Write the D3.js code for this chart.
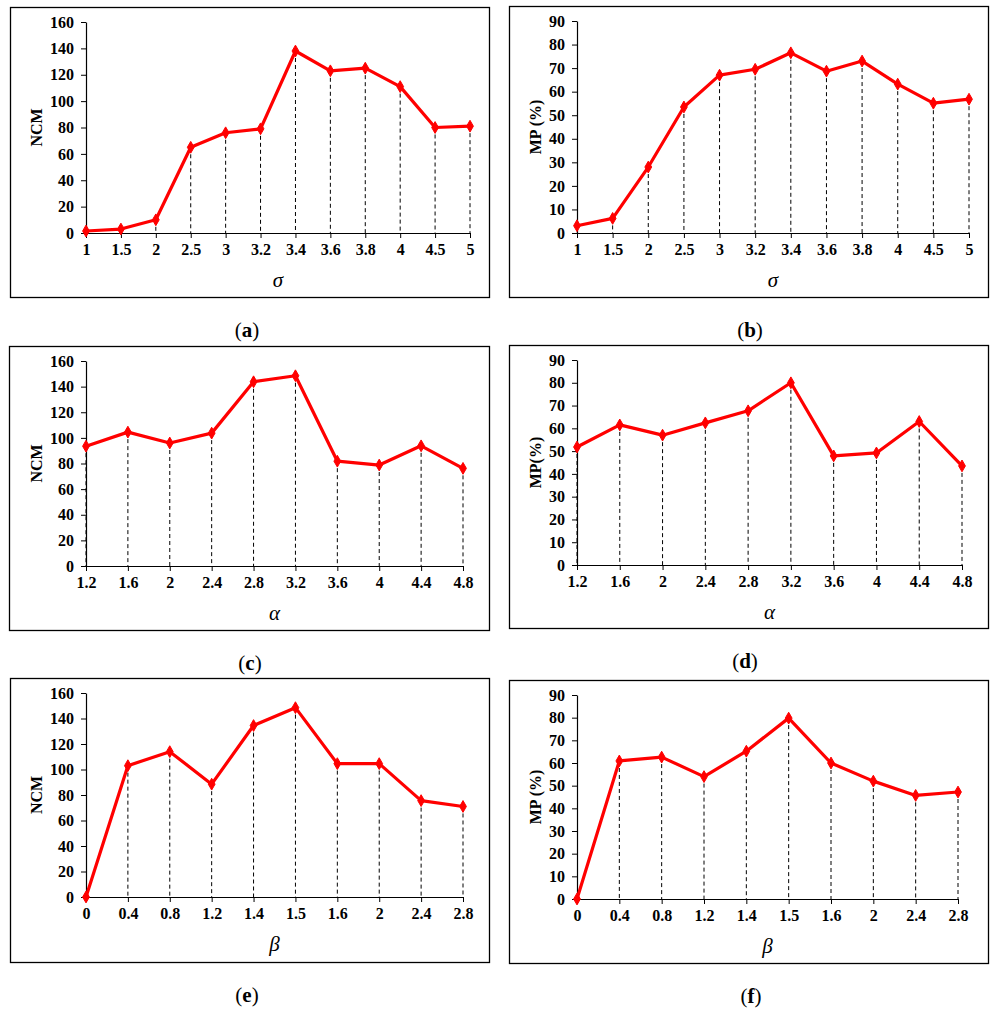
<!DOCTYPE html>
<html>
<head>
<meta charset="utf-8">
<script src="https://cdn.jsdelivr.net/npm/d3@7"></script>
<style>
  body { margin: 0; background: #fff; }
  text { font-family: "Liberation Serif", "Times New Roman", serif; }
</style>
</head>
<body>
<svg id="fig" width="997" height="1016"></svg>
<script>
// x categories
var sigmaCats = ["1", "1.5", "2", "2.5", "3", "3.2", "3.4", "3.6", "3.8", "4", "4.5", "5"];
var alphaCats = ["1.2", "1.6", "2", "2.4", "2.8", "3.2", "3.6", "4", "4.4", "4.8"];
var betaCats = ["0", "0.4", "0.8", "1.2", "1.4", "1.5", "1.6", "2", "2.4", "2.8"];

// series values
var ncmSigma = [1.5, 3, 10, 65, 76, 79, 138, 123, 125, 111, 80, 81];
var mpSigma = [3.1, 6.2, 28, 53.5, 67, 69.5, 76.5, 68.7, 73, 63.2, 55.1, 56.8];
var ncmAlpha = [93.5, 104.5, 96, 103.7, 143.8, 148.5, 81.8, 78.8, 93.8, 76.2];
var mpAlpha = [51.8, 61.5, 57, 62.4, 67.7, 80, 47.9, 49.2, 63, 43.5];
var ncmBeta = [0, 103, 114, 88.5, 134.5, 148.5, 104.6, 104.6, 75.6, 71];
var mpBeta = [0, 60.9, 62.6, 54, 65.2, 79.8, 60, 52, 45.7, 47.2];

// y tick labels
var ncmTicks = [0, 20, 40, 60, 80, 100, 120, 140, 160];
var mpTicks = [0, 10, 20, 30, 40, 50, 60, 70, 80, 90];

var svg = d3.select("#fig");

var panels = [
  {cats: sigmaCats, vals: ncmSigma, ticks: ncmTicks, ylab: "NCM", xlab: "\u03c3", cap: "a",
   frame: [10, 7, 479, 290], x0: 86, x1: 470, yt: 22, yb: 233, labX: 37, capX: 247},
  {cats: sigmaCats, vals: mpSigma, ticks: mpTicks, ylab: "MP (%)", xlab: "\u03c3", cap: "b",
   frame: [509, 6, 479, 291], x0: 577, x1: 969, yt: 21, yb: 233, labX: 536, capX: 750},
  {cats: alphaCats, vals: ncmAlpha, ticks: ncmTicks, ylab: "NCM", xlab: "\u03b1", cap: "c",
   frame: [9, 346, 480, 284], x0: 86, x1: 463, yt: 361, yb: 566, labX: 37, capX: 250},
  {cats: alphaCats, vals: mpAlpha, ticks: mpTicks, ylab: "MP(%)", xlab: "\u03b1", cap: "d",
   frame: [509, 345, 479, 283], x0: 577, x1: 962, yt: 360, yb: 565, labX: 536, capX: 745},
  {cats: betaCats, vals: ncmBeta, ticks: ncmTicks, ylab: "NCM", xlab: "\u03b2", cap: "e",
   frame: [10, 678, 479, 284], x0: 86, x1: 463, yt: 693, yb: 897, labX: 37, capX: 247},
  {cats: betaCats, vals: mpBeta, ticks: mpTicks, ylab: "MP (%)", xlab: "\u03b2", cap: "f",
   frame: [509, 680, 479, 283], x0: 577, x1: 958, yt: 695, yb: 899, labX: 536, capX: 751}
];

panels.forEach(function(p) {
  var g = svg.append("g");

  // frame
  g.append("rect")
    .attr("x", p.frame[0] + 0.5).attr("y", p.frame[1] + 0.5)
    .attr("width", p.frame[2]).attr("height", p.frame[3])
    .attr("fill", "none").attr("stroke", "#000").attr("stroke-width", 1.3);

  var x = d3.scalePoint().domain(p.cats).range([p.x0, p.x1]).padding(0);
  var y = d3.scaleLinear().domain([0, d3.max(p.ticks)]).range([p.yb, p.yt]);

  // drop lines
  g.append("g").selectAll("line")
    .data(p.vals)
    .enter()
    .append("line")
    .attr("x1", function(d, i) { return x(p.cats[i]); })
    .attr("x2", function(d, i) { return x(p.cats[i]); })
    .attr("y1", function(d) { return y(d); })
    .attr("y2", y(0))
    .attr("stroke", "#000")
    .attr("stroke-width", 1)
    .attr("stroke-dasharray", "4,3");

  // y axis
  var yAxis = g.append("g")
    .attr("transform", "translate(" + p.x0 + ",0)")
    .call(d3.axisLeft(y).tickValues(p.ticks).tickSize(5).tickPadding(7).tickSizeOuter(0));
  yAxis.selectAll("text")
    .attr("font-family", "Liberation Serif").attr("font-weight", "bold")
    .attr("font-size", 16).attr("fill", "#000");

  // x axis
  var xAxis = g.append("g")
    .attr("transform", "translate(0," + p.yb + ")")
    .call(d3.axisBottom(x).tickSize(5).tickPadding(6).tickSizeOuter(0));
  xAxis.selectAll("text")
    .attr("font-family", "Liberation Serif").attr("font-weight", "bold")
    .attr("font-size", 16).attr("fill", "#000");
  g.selectAll(".domain").attr("stroke", "#000").attr("stroke-width", 1.2);
  g.selectAll(".tick line").attr("stroke", "#000");

  // the series line
  var line = d3.line()
    .x(function(d, i) { return x(p.cats[i]); })
    .y(function(d) { return y(d); });
  g.append("path")
    .datum(p.vals)
    .attr("d", line)
    .attr("fill", "none")
    .attr("stroke", "#ff0000")
    .attr("stroke-width", 3.2)
    .attr("stroke-linejoin", "round");

  // diamond markers
  g.append("g").selectAll("path")
    .data(p.vals)
    .enter()
    .append("path")
    .attr("d", d3.symbol().type(d3.symbolDiamond).size(40))
    .attr("transform", function(d, i) {
      return "translate(" + x(p.cats[i]) + "," + y(d) + ")";
    })
    .attr("fill", "#ff0000")
    .attr("stroke", "#ff0000")
    .attr("stroke-width", 1);

  // y title
  g.append("text")
    .attr("transform", "translate(" + (p.labX + 5) + "," + ((p.yt + p.yb) / 2) + ") rotate(-90)")
    .attr("text-anchor", "middle")
    .attr("font-weight", "bold")
    .attr("font-size", 16)
    .text(p.ylab);

  // x title
  g.append("text")
    .attr("x", (p.x0 + p.x1) / 2)
    .attr("y", p.yb + 54)
    .attr("text-anchor", "middle")
    .attr("font-style", "italic")
    .attr("font-size", 21)
    .text(p.xlab);

  // caption
  var cap = svg.append("text")
    .attr("x", p.capX)
    .attr("y", p.frame[1] + p.frame[3] + 40)
    .attr("text-anchor", "middle")
    .attr("font-size", 21);
  cap.append("tspan").text("(");
  cap.append("tspan").attr("font-weight", "bold").text(p.cap);
  cap.append("tspan").text(")");
});
</script>
</body>
</html>
